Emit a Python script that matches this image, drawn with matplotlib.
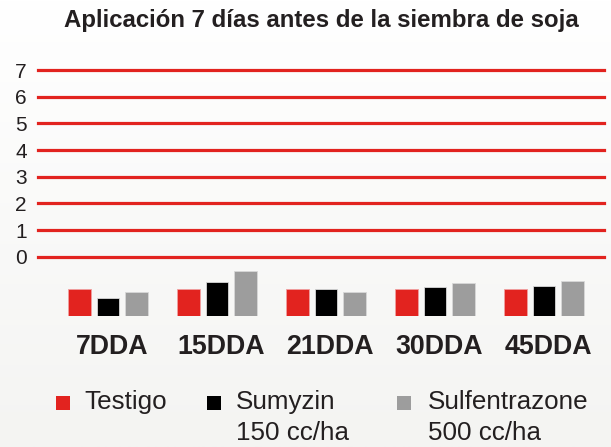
import numpy as np
import matplotlib
matplotlib.use("Agg")
import matplotlib.pyplot as plt
from matplotlib.patches import Rectangle

# ---- data ----
categories = ["7DDA", "15DDA", "21DDA", "30DDA", "45DDA"]
testigo = [1.00, 1.00, 1.00, 1.00, 1.00]
sumyzin = [0.69, 1.26, 1.00, 1.08, 1.14]
sulfentrazone = [0.91, 1.69, 0.91, 1.23, 1.30]
y_ticks = [0, 1, 2, 3, 4, 5, 6, 7]
series_labels = ["Testigo", "Sumyzin\n150 cc/ha", "Sulfentrazone\n500 cc/ha"]
title = "Aplicación 7 días antes de la siembra de soja"

RED = "#e2231f"
BLACK = "#000000"
GRAY = "#9d9d9d"
TXT = "#231f20"

plt.rcParams['font.family'] = ['Liberation Sans', 'DejaVu Sans']

W, H = 611, 447
fig = plt.figure(figsize=(W / 100, H / 100), dpi=100)

# background gradient
bg = fig.add_axes([0, 0, 1, 1], zorder=-10)
grad = np.linspace(1.0, 0.0, 256).reshape(-1, 1)
bg.imshow(grad, aspect='auto', cmap=matplotlib.colors.LinearSegmentedColormap.from_list(
    "bg", ["#f4f4f2", "#ffffff"]), extent=[0, 1, 0, 1])
bg.axis('off')

def fx(px):
    return px / W

def fy(py):
    return 1 - py / H

# grid axes
gx0, gx1 = 38, 604
gy0, gy7 = 256.7, 70
ax = fig.add_axes([fx(gx0), fy(gy0), fx(gx1) - fx(gx0), fy(gy7) - fy(gy0)])
ax.set_ylim(0, 7)
ax.set_xlim(0, 1)
for t in y_ticks:
    ax.axhline(t, color=RED, lw=2.3, clip_on=False)
ax.set_yticks(y_ticks)
ax.set_yticklabels([str(t) for t in y_ticks], fontsize=15, color=TXT)
ax.tick_params(axis='y', length=0, pad=8)
ax.set_xticks([])
for s in ax.spines.values():
    s.set_visible(False)
ax.patch.set_alpha(0)

# bars axes
unit = (gy0 - gy7) / 7.0
base_px = 316
bax = fig.add_axes([fx(gx0), fy(base_px), fx(gx1) - fx(gx0), 2 * unit / H])
bax.set_ylim(0, 2)
x = np.arange(len(categories))
bax.set_xlim(-0.642, 4.55)
w = 0.21
off = 0.265
edge = "#d8d8d8"
bax.bar(x - off, testigo, w, color=RED, edgecolor="#f0a0a0", linewidth=0.6)
bax.bar(x, sumyzin, w, color=BLACK, edgecolor=edge, linewidth=0.6)
bax.bar(x + off, sulfentrazone, w, color=GRAY, edgecolor=edge, linewidth=0.6)
bax.set_xticks(x + 0.04)
bax.set_xticklabels(categories, fontsize=19.3, fontweight='bold', color=TXT)
bax.tick_params(axis='x', length=0, pad=13)
bax.set_yticks([])
for s in bax.spines.values():
    s.set_visible(False)
bax.patch.set_alpha(0)

# title
fig.text(fx(321), fy(20), title, ha='center', va='center', fontsize=17.3,
         fontweight='bold', color=TXT)

# legend
colors = [RED, BLACK, GRAY]
sq_x = [56, 207, 397]
txt_x = [84, 236, 428]
for c, sx, tx, lab in zip(colors, sq_x, txt_x, series_labels):
    fig.add_artist(Rectangle((fx(sx), fy(409.7)), 14 / W, 14 / H, transform=fig.transFigure,
                             facecolor=c, edgecolor='none'))
    for i, line in enumerate(lab.split("\n")):
        fig.text(fx(tx), fy(409.3 + 30.7 * i), line, ha='left', va='baseline',
                 fontsize=18.7, color=TXT)

fig.savefig("out.png", dpi=100)
